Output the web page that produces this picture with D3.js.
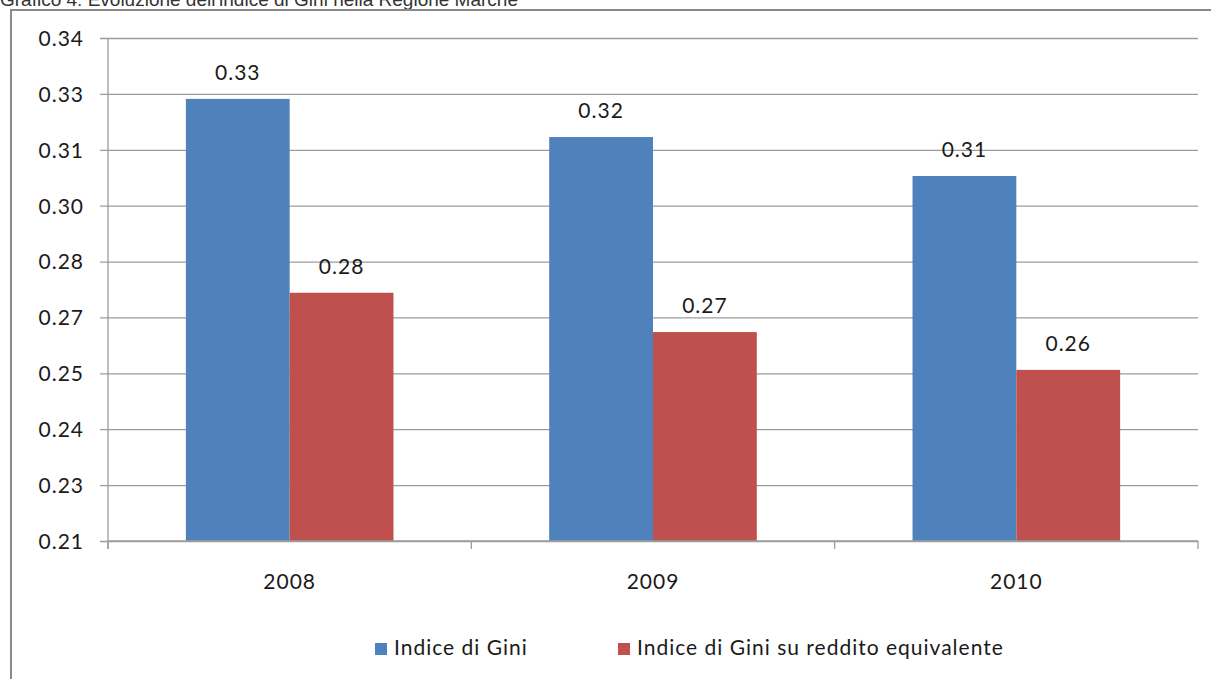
<!DOCTYPE html>
<html>
<head>
<meta charset="utf-8">
<script src="https://cdn.jsdelivr.net/npm/d3@7"></script>
<style>
  html, body { margin: 0; padding: 0; background: #fff; }
  svg { display: block; }
</style>
</head>
<body>
<svg id="chart" width="1211" height="679"></svg>
<script>
// Gini index, Marche region, 2008-2010
const years = ["2008", "2009", "2010"];
const seriesNames = ["Indice di Gini", "Indice di Gini su reddito equivalente"];
const giniValues = [0.3257, 0.3158, 0.3057];
const giniEquivValues = [0.2754, 0.2652, 0.2554];
const yTickLabels = ["0.21", "0.23", "0.24", "0.25", "0.27", "0.28", "0.30", "0.31", "0.33", "0.34"];
const yMin = 0.211, yMax = 0.3415;

const colors = ["#4F81BD", "#C0504D"];
const textColor = "#1a1a1a";
const gridColor = "#9c9c9c";
const font = "Lato, 'Open Sans', sans-serif";
const spacing = "1px";

const svg = d3.select("#chart");

// Title (caption above the frame, partly clipped by the top edge)
svg.append("text")
  .attr("x", 0).attr("y", 6)
  .attr("font-family", "'Liberation Sans', Arial, sans-serif")
  .attr("font-size", 19)
  .attr("fill", "#333")
  .text("Grafico 4: Evoluzione dell'indice di Gini nella Regione Marche");

// Frame around the chart
svg.append("path")
  .attr("d", "M11,679 L11,10 L1211,10")
  .attr("fill", "none")
  .attr("stroke", "#8a8a8a")
  .attr("stroke-width", 2);

const plot = { left: 108, right: 1198, top: 38, bottom: 541 };

const x = d3.scaleBand().domain(years).range([plot.left, plot.right]).padding(0);
const xInner = d3.scaleBand().domain(d3.range(seriesNames.length))
  .range([0, x.bandwidth()]).paddingInner(0).paddingOuter(0.75);
const y = d3.scaleLinear().domain([yMin, yMax]).range([plot.bottom, plot.top]);
const yTicks = d3.range(yTickLabels.length).map(i => yMin + i * (yMax - yMin) / (yTickLabels.length - 1));

// Horizontal gridlines with their tick marks
const yAxis = d3.axisLeft(y)
  .tickValues(yTicks)
  .tickSize(-(plot.right - plot.left))
  .tickPadding(0)
  .tickFormat((d, i) => yTickLabels[i]);

const gy = svg.append("g")
  .attr("transform", `translate(${plot.left},0)`)
  .call(yAxis);
gy.select(".domain").remove();
gy.selectAll(".tick line")
  .attr("x1", -8)
  .attr("stroke", gridColor)
  .attr("stroke-width", 1.3);
gy.selectAll(".tick text")
  .attr("x", -24)
  .attr("dy", "0.35em")
  .attr("font-family", font)
  .attr("font-size", 21)
  .attr("letter-spacing", spacing)
  .attr("fill", textColor);

// Vertical axis line
svg.append("line")
  .attr("x1", plot.left).attr("x2", plot.left)
  .attr("y1", plot.top).attr("y2", plot.bottom + 8)
  .attr("stroke", gridColor).attr("stroke-width", 1.3);

// Bars
const data = years.map((yr, i) => ({ year: yr, values: [giniValues[i], giniEquivValues[i]] }));
const groups = svg.append("g").selectAll("g")
  .data(data).join("g")
  .attr("transform", d => `translate(${x(d.year)},0)`);

groups.selectAll("rect")
  .data(d => d.values.map((v, s) => ({ v, s })))
  .join("rect")
  .attr("x", d => xInner(d.s))
  .attr("width", xInner.bandwidth())
  .attr("y", d => y(d.v))
  .attr("height", d => y(yMin) - y(d.v))
  .attr("fill", d => colors[d.s]);

// Value labels
groups.selectAll("text.value")
  .data(d => d.values.map((v, s) => ({ v, s })))
  .join("text")
  .attr("class", "value")
  .attr("x", d => xInner(d.s) + xInner.bandwidth() / 2)
  .attr("y", d => y(d.v) - 19)
  .attr("text-anchor", "middle")
  .attr("font-family", font)
  .attr("font-size", 21)
  .attr("letter-spacing", spacing)
  .attr("fill", textColor)
  .text(d => d3.format(".2f")(d.v));

// Category axis
const xAxis = d3.axisBottom(x).tickSize(0).tickPadding(0);
const gx = svg.append("g")
  .attr("transform", `translate(0,${plot.bottom})`)
  .call(xAxis);
gx.select(".domain").remove();
gx.selectAll(".tick text")
  .attr("y", 48)
  .attr("dy", 0)
  .attr("font-family", font)
  .attr("font-size", 21)
  .attr("letter-spacing", spacing)
  .attr("fill", textColor);

svg.append("line")
  .attr("x1", plot.left).attr("x2", plot.right)
  .attr("y1", plot.bottom).attr("y2", plot.bottom)
  .attr("stroke", gridColor).attr("stroke-width", 1.3);

// Category separators below the axis
svg.append("g").selectAll("line")
  .data(years.map(d => x(d)).concat([plot.right]))
  .join("line")
  .attr("x1", d => d).attr("x2", d => d)
  .attr("y1", plot.bottom).attr("y2", plot.bottom + 8)
  .attr("stroke", gridColor).attr("stroke-width", 1.3);

// Legend
const legendX = [375, 618];
const legend = svg.append("g").selectAll("g")
  .data(seriesNames).join("g")
  .attr("transform", (d, i) => `translate(${legendX[i]},643)`);
legend.append("rect")
  .attr("width", 12).attr("height", 12)
  .attr("fill", (d, i) => colors[i]);
legend.append("text")
  .attr("x", 19).attr("y", 12)
  .attr("font-family", font)
  .attr("font-size", 21)
  .attr("letter-spacing", spacing)
  .attr("fill", textColor)
  .text(d => d);
</script>
</body>
</html>
